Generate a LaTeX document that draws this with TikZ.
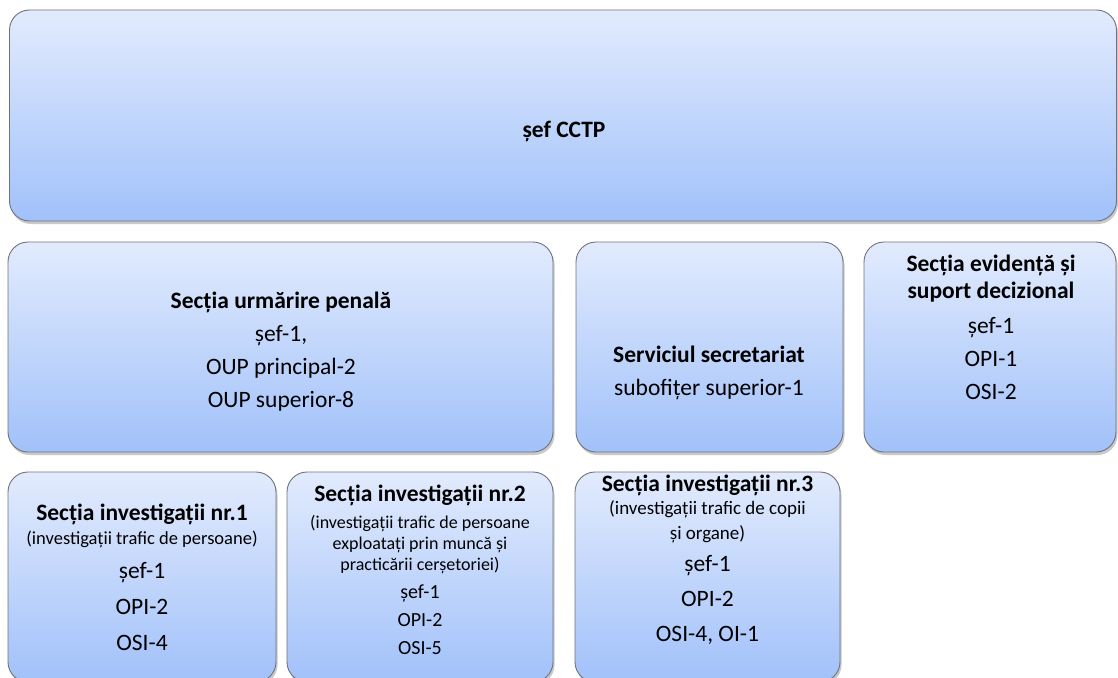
\documentclass[tikz,border=0pt]{standalone}
\usepackage{fontspec}
\setmainfont{Carlito}
\usepackage{xcolor}
\usepackage{tikz}
\usetikzlibrary{shadows}
\definecolor{unitTop}{RGB}{226, 235, 253}
\definecolor{unitBottom}{RGB}{161, 193, 250}
\definecolor{unitEdge}{RGB}{110, 114, 124}

\begin{document}
\begin{tikzpicture}[x=1pt,y=-1pt,
  unit/.style={draw=unitEdge, line width=0.9pt, rounded corners=20pt,
    top color=unitTop, bottom color=unitBottom, inner sep=0pt,
    drop shadow={shadow xshift=1.5pt, shadow yshift=-3pt, opacity=0.3, fill=black!70}},
  lbl/.style={align=center, inner sep=0pt, font=\fontsize{23.5}{33}\selectfont},
  small/.style={font=\fontsize{18.5}{21}\selectfont}]
\useasboundingbox (0,0) rectangle (1118,677);
\clip (0,0) rectangle (1118,677);

% Boxes
\node[unit, minimum width=1107pt, minimum height=211pt] (cctp) at (563,115.5) {};
\node[unit, minimum width=545pt, minimum height=210pt] (urmarire) at (280.5,347) {};
\node[unit, minimum width=267pt, minimum height=210pt] (secretariat) at (709.5,347) {};
\node[unit, minimum width=252pt, minimum height=210pt] (evidenta) at (990,347) {};
\node[unit, minimum width=268pt, minimum height=210pt] (inv1) at (142,577) {};
\node[unit, minimum width=266pt, minimum height=210pt] (inv2) at (420,577) {};
\node[unit, minimum width=265pt, minimum height=210pt] (inv3) at (707.5,577) {};

% Labels
\node[lbl] (cctpT) at (564,131) {\bfseries șef CCTP};
\node[lbl] (urmarireT) at (281,352) {\bfseries Secția urmărire penală\\ șef-1,\\ OUP principal-2\\ OUP superior-8};
\node[lbl] (secretariatT) at (709,373) {\bfseries Serviciul secretariat\\ subofițer superior-1};
\node[lbl] (evidentaT) at (991,327) {\bfseries Secția evidență și\\[-6pt] \bfseries suport decizional\\[2pt] șef-1\\ OPI-1\\ OSI-2};
\node[lbl] (inv1T) at (142,577) {\bfseries Secția investigații nr.1\\[-9pt] \fontsize{18.5}{21}\selectfont(investigații trafic de persoane)\\[1pt] șef-1\\[3pt] OPI-2\\[3pt] OSI-4};
\node[lbl] (inv2T) at (420,570) {\bfseries Secția investigații nr.2\\[-6pt] \fontsize{18}{21}\selectfont(investigații trafic de persoane\\[-12pt] \fontsize{18}{21}\selectfont exploatați prin muncă și\\[-12pt] \fontsize{18}{21}\selectfont practicării cerșetoriei)\\[-5pt] \fontsize{20}{24}\selectfont șef-1\\[-5pt] \fontsize{20}{24}\selectfont OPI-2\\[-5pt] \fontsize{20}{24}\selectfont OSI-5};
\node[lbl] (inv3T) at (707.5,560) {\bfseries Secția investigații nr.3\\[-10pt] \fontsize{19}{21}\selectfont(investigații trafic de copii\\[-8pt] \fontsize{19}{21}\selectfont și organe)\\[-1pt] șef-1\\[2pt] OPI-2\\[2pt] OSI-4, OI-1};
\end{tikzpicture}
\end{document}
